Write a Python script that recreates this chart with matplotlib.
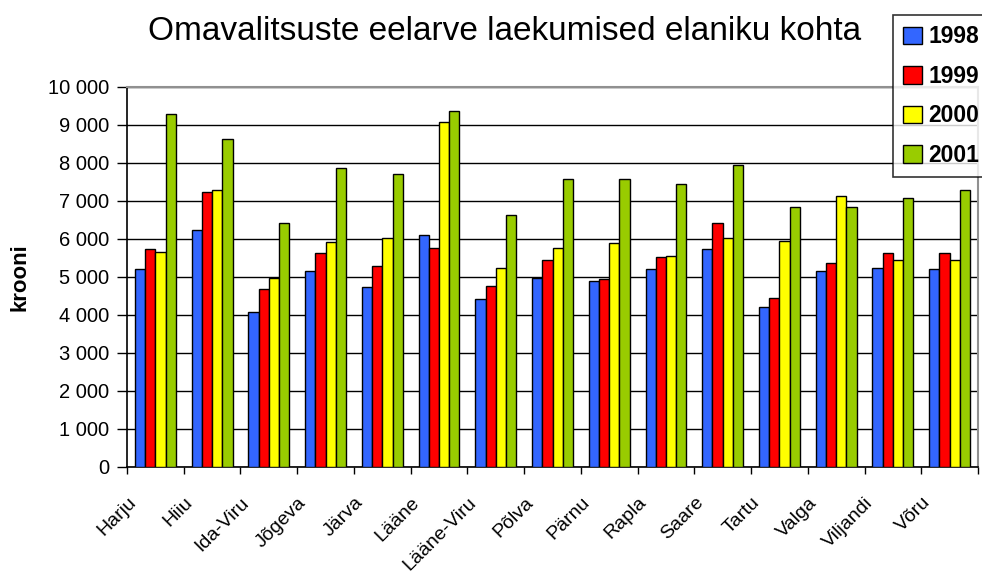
import matplotlib
matplotlib.use("Agg")
import matplotlib.pyplot as plt
import numpy as np
from matplotlib.transforms import ScaledTranslation
from matplotlib.ticker import FuncFormatter

counties = ["Harju", "Hiiu", "Ida-Viru", "Jõgeva", "Järva", "Lääne", "Lääne-Viru",
            "Põlva", "Pärnu", "Rapla", "Saare", "Tartu", "Valga", "Viljandi", "Võru"]
years = ["1998", "1999", "2000", "2001"]
v1998 = [5200, 6240, 4090, 5150, 4730, 6100, 4410, 4980, 4890, 5200, 5730, 4200, 5150, 5250, 5200]
v1999 = [5730, 7240, 4680, 5620, 5300, 5770, 4770, 5460, 4950, 5520, 6410, 4460, 5360, 5620, 5620]
v2000 = [5660, 7300, 4980, 5930, 6030, 9090, 5250, 5770, 5890, 5560, 6030, 5940, 7140, 5460, 5460]
v2001 = [9300, 8620, 6410, 7880, 7720, 9360, 6620, 7570, 7570, 7460, 7940, 6830, 6830, 7080, 7300]
series = [v1998, v1999, v2000, v2001]
colors = ["#3366FF", "#FF0000", "#FFFF00", "#99CC00"]

title = "Omavalitsuste eelarve laekumised elaniku kohta"
ylabel = "krooni"

plt.rcParams['font.family'] = ['Liberation Sans', 'DejaVu Sans']

fig = plt.figure(figsize=(9.82, 5.8), dpi=100)
ax = fig.add_axes([127/982, 1-467/580, 851/982, 380/580])

n = len(counties)
x = np.arange(n) + 0.5
bw = 0.18
for k, (vals, c, lab) in enumerate(zip(series, colors, years)):
    ax.bar(x + (k - 1.5) * bw, vals, width=bw, color=c, edgecolor="black",
           linewidth=1.0, label=lab, zorder=3)

ax.set_xlim(0, n)
ax.set_ylim(0, 10000)
ax.set_yticks(np.arange(0, 10001, 1000))
ax.yaxis.set_major_formatter(FuncFormatter(lambda v, p: f"{int(v):,}".replace(",", " ")))
ax.yaxis.grid(True, color="black", linewidth=1.0, zorder=0)
ax.set_axisbelow(True)

ax.set_xticks(np.arange(0, n + 1))
ax.set_xticklabels([])
ax.set_xticks(x, minor=True)
ax.set_xticklabels(counties, minor=True, rotation=45, ha="right", va="center",
                   rotation_mode="anchor", fontsize=14)
ax.tick_params(axis="x", which="minor", length=0, pad=0)
ax.tick_params(axis="x", which="major", length=5, width=1, direction="out", color="black")
ax.tick_params(axis="y", length=7, width=1, direction="out", pad=6, labelsize=14.5)

off = ScaledTranslation(-0.22, -0.33, fig.dpi_scale_trans)
for lbl in ax.get_xticklabels(minor=True):
    lbl.set_transform(lbl.get_transform() + off)

for s in ["left", "bottom"]:
    ax.spines[s].set_color("black")
    ax.spines[s].set_linewidth(1.2)
for s in ["top", "right"]:
    ax.spines[s].set_color("#909090")
    ax.spines[s].set_linewidth(1.5)

fig.text(505/982, 1-31/580, title, ha="center", va="center", fontsize=24)
fig.text(20/982, 1-277/580, ylabel, rotation=90, ha="center", va="center",
         fontsize=16, fontweight="bold")

leg = fig.legend(loc="upper left", bbox_to_anchor=(893/982, 1-15/580),
                 frameon=True, fancybox=False, edgecolor="black",
                 prop={"size": 16.5, "weight": "bold"}, handlelength=0.8,
                 handleheight=0.8, handletextpad=0.3, labelspacing=0.72,
                 borderpad=0.45, borderaxespad=0)
leg.get_frame().set_linewidth(1.2)

fig.savefig("out.png", dpi=100)
